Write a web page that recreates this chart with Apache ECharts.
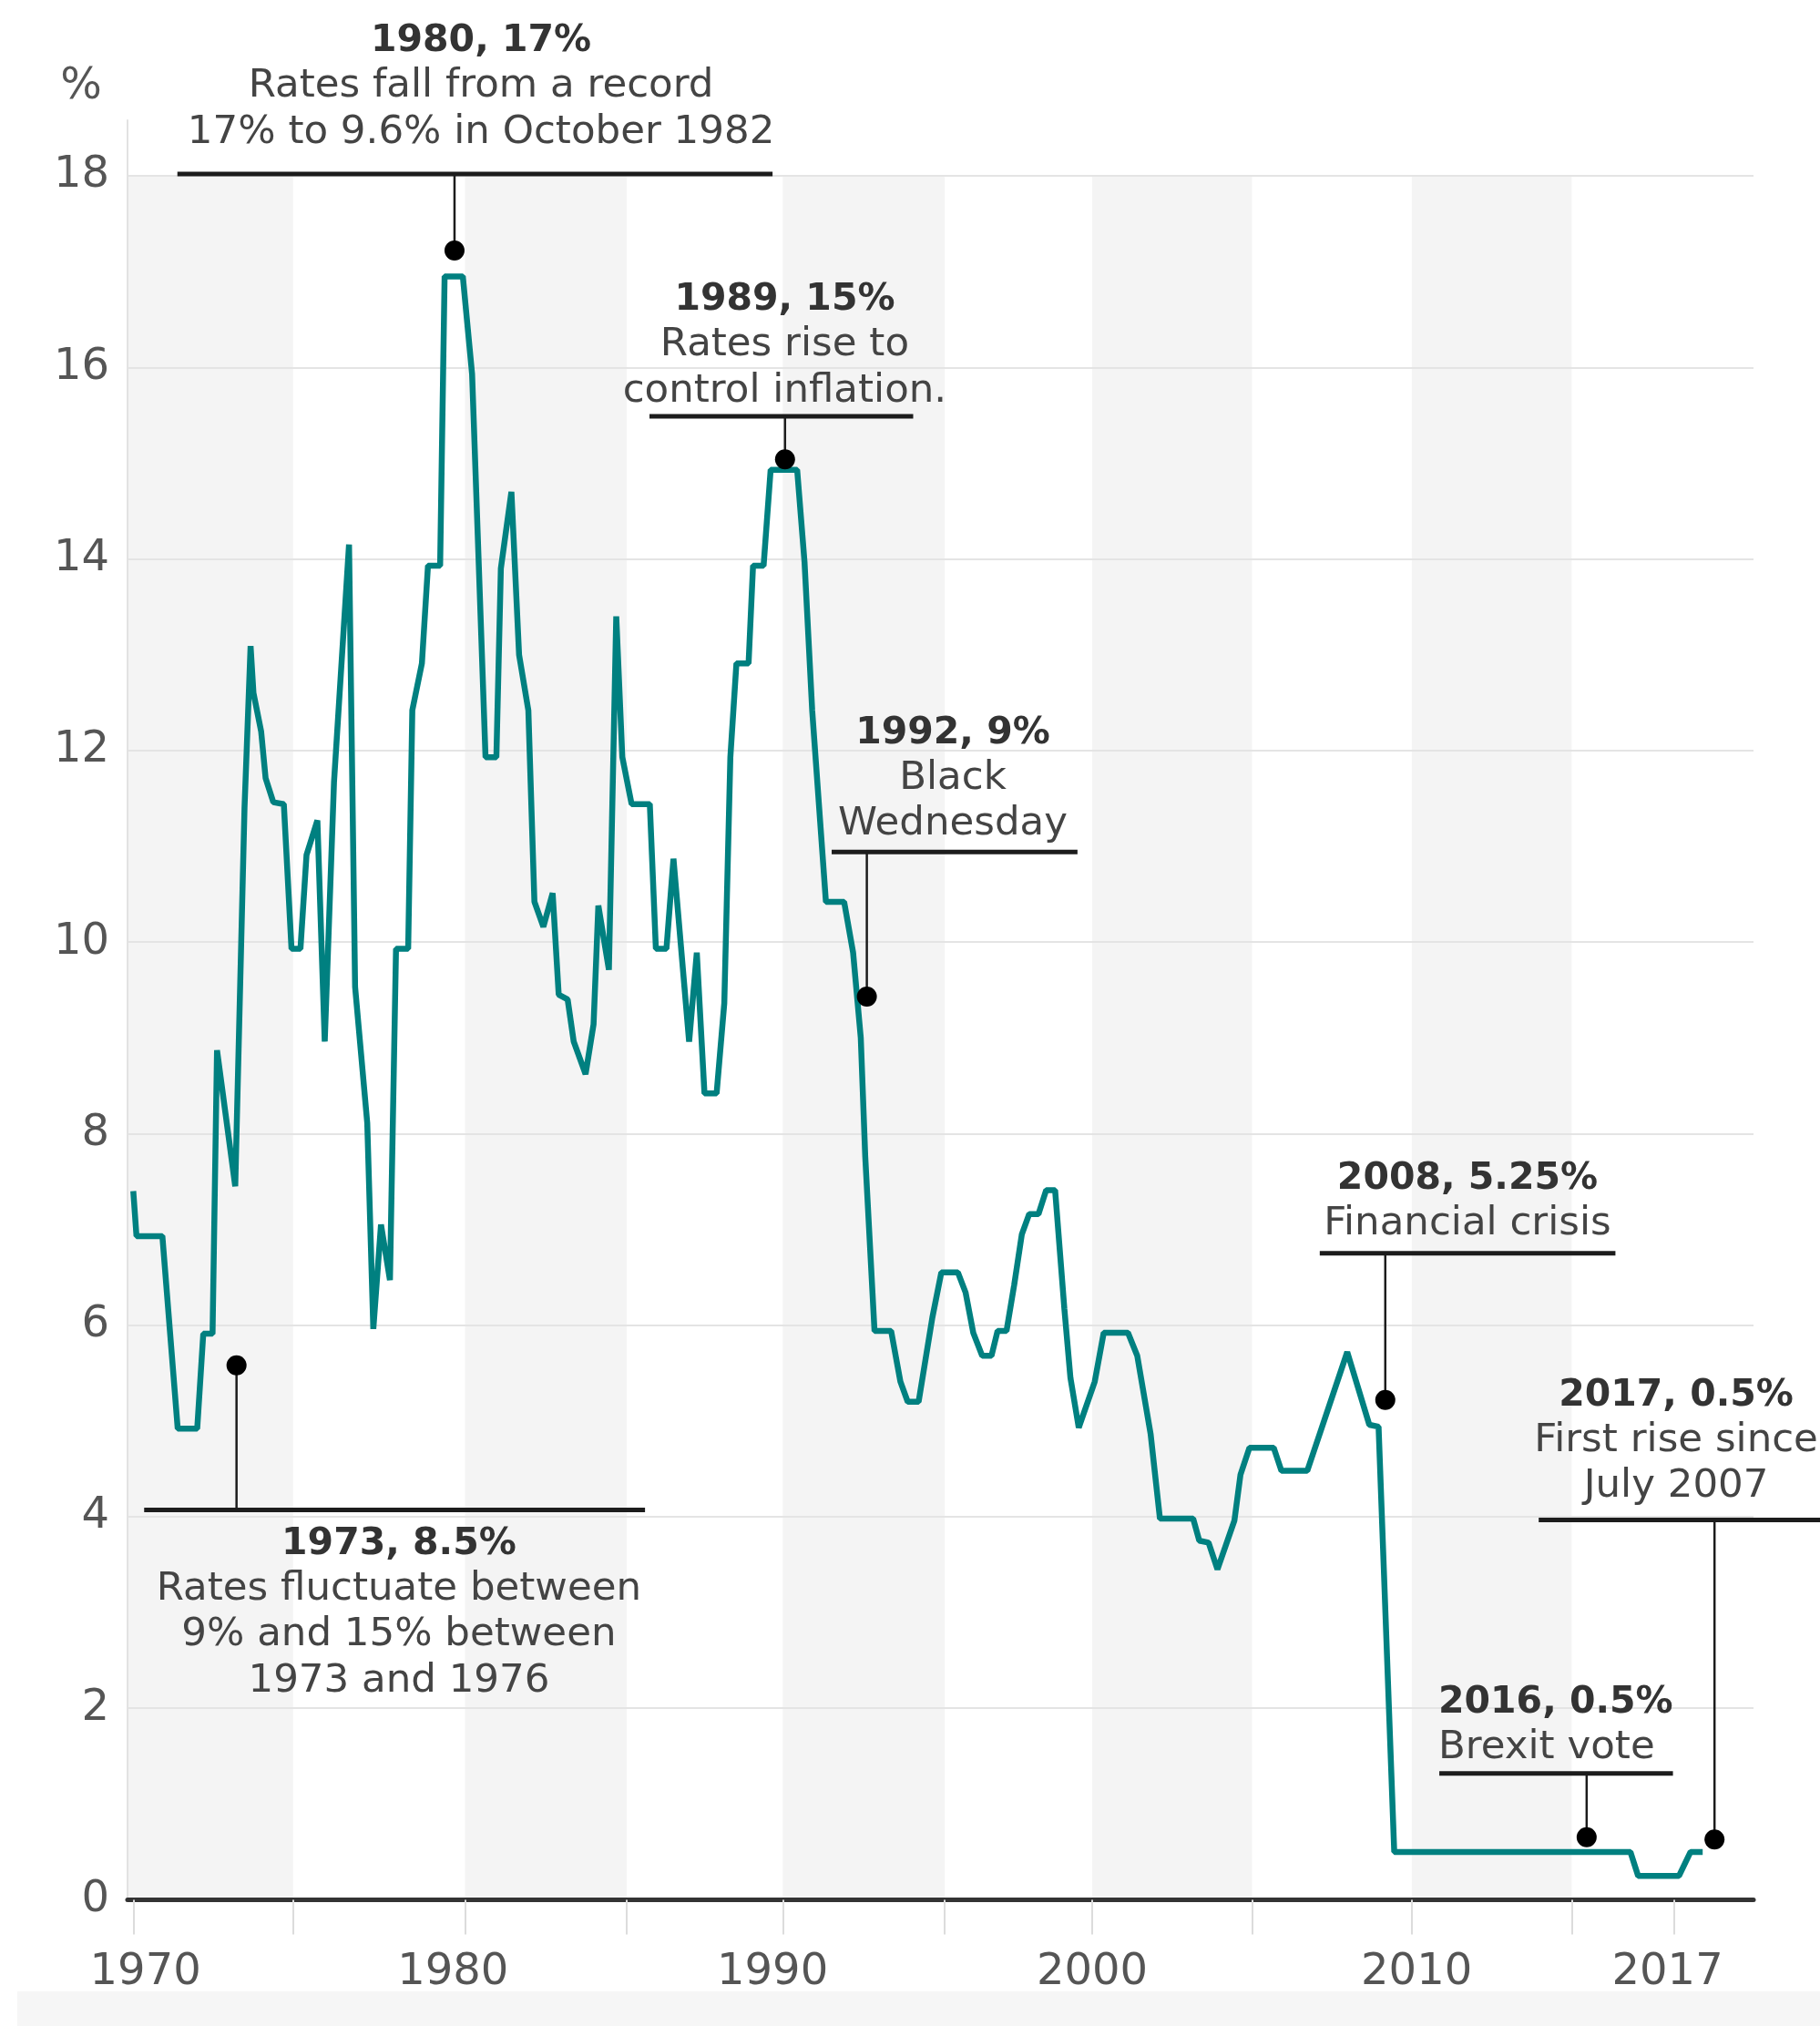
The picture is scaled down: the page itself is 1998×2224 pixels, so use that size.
<!DOCTYPE html>
<html>
<head>
<meta charset="utf-8">
<title>UK interest rates since 1970</title>
<script src="https://cdn.jsdelivr.net/npm/echarts@6.0.0/dist/echarts.min.js"></script>
<style>
  html, body { margin: 0; padding: 0; background: #ffffff; }
  #wrap { position: relative; width: 1998px; height: 2224px; overflow: hidden; }
  #footer { position: absolute; left: 19px; top: 2186px; right: 0; bottom: 0; background: #f6f6f6; }
  #chart { position: absolute; left: 0; top: 0; width: 1998px; height: 2224px; }
</style>
</head>
<body>
<div id="wrap">
  <div id="footer"></div>
  <div id="chart"></div>
</div>
<script>
// Bank Rate, % (year as decimal, value at each turning point of the line)
const RATE_YEARS = [
  1970.00, 1970.10, 1970.91, 1971.39, 1972.00, 1972.19, 1972.48, 1972.62, 1973.19, 1973.48,
  1973.67, 1973.76, 1974.00, 1974.14, 1974.38, 1974.71, 1974.95, 1975.23, 1975.42, 1975.76,
  1975.99, 1976.28, 1976.75, 1976.94, 1977.32, 1977.51, 1977.75, 1978.03, 1978.22, 1978.60,
  1978.73, 1979.03, 1979.22, 1979.60, 1979.74, 1980.31, 1980.60, 1981.02, 1981.36, 1981.50,
  1981.83, 1982.07, 1982.36, 1982.55, 1982.83, 1983.12, 1983.31, 1983.59, 1983.78, 1984.15,
  1984.40, 1984.55, 1984.88, 1985.11, 1985.30, 1985.59, 1986.16, 1986.35, 1986.68, 1986.90,
  1987.39, 1987.63, 1987.87, 1988.25, 1988.49, 1988.68, 1988.87, 1989.25, 1989.39, 1989.72,
  1989.94, 1990.77, 1991.00, 1991.24, 1991.67, 1992.24, 1992.52, 1992.76, 1992.90, 1993.19,
  1993.71, 1994.00, 1994.23, 1994.57, 1995.00, 1995.28, 1995.80, 1996.04, 1996.28, 1996.56,
  1996.85, 1997.04, 1997.32, 1997.56, 1997.80, 1998.03, 1998.32, 1998.56, 1998.84, 1999.13,
  1999.32, 1999.58, 2000.08, 2000.36, 2001.12, 2001.41, 2001.83, 2002.12, 2003.16, 2003.35,
  2003.64, 2003.92, 2004.45, 2004.64, 2004.92, 2005.68, 2005.92, 2006.73, 2007.98, 2008.67,
  2008.96, 2009.45, 2016.84, 2017.08, 2018.36, 2018.72, 2019.10
];
const RATE_VALUES = [
  7.40, 6.93, 6.93, 4.92, 4.92, 5.91, 5.91, 8.87, 7.45, 11.40,
  13.09, 12.60, 12.20, 11.71, 11.46, 11.44, 9.93, 9.93, 10.91, 11.27,
  8.96, 11.67, 14.15, 9.53, 8.11, 5.96, 7.05, 6.47, 9.93, 9.93,
  12.42, 12.91, 13.93, 13.93, 16.95, 16.95, 15.93, 11.93, 11.93, 13.90,
  14.70, 13.00, 12.42, 10.42, 10.16, 10.51, 9.45, 9.40, 8.96, 8.62,
  9.14, 10.38, 9.71, 13.40, 11.93, 11.44, 11.44, 9.93, 9.93, 10.87,
  8.96, 9.89, 8.42, 8.42, 9.36, 11.93, 12.91, 12.91, 13.93, 13.93,
  14.93, 14.93, 13.97, 12.42, 10.42, 10.42, 9.89, 9.00, 7.76, 5.94,
  5.94, 5.41, 5.20, 5.20, 6.08, 6.55, 6.55, 6.34, 5.92, 5.68,
  5.68, 5.94, 5.94, 6.42, 6.95, 7.16, 7.16, 7.41, 7.41, 6.17,
  5.45, 4.93, 5.41, 5.92, 5.92, 5.68, 4.86, 3.98, 3.98, 3.75,
  3.73, 3.45, 3.96, 4.44, 4.72, 4.72, 4.48, 4.48, 5.72, 4.96,
  4.94, 0.50, 0.50, 0.25, 0.25, 0.50, 0.50
];

// Axis extent and ticks (years; the last tick marks the 2017 end of the series)
const X_MIN = 1969.82;
const X_MAX = 2020.69;
const Y_MAX = 18.58;
const X_TICKS = [1970, 1975, 1980.38, 1985.44, 1990.32, 1995.39, 2000, 2005, 2010, 2015, 2018.2];
const X_LABEL_AT = [1970.38, 1980, 1990, 2000, 2010.15, 2018];
const X_LABEL_TEXT = ['1970', '1980', '1990', '2000', '2010', '2017'];

// Shaded five-year bands [from, to]
const BANDS = [[1969.82, 1975], [1980.38, 1985.44], [1990.32, 1995.39], [2000, 2005], [2010, 2015]];
const BAND_TOP = 18;

// Callouts: heading, note lines, text anchor [year, % at first baseline],
// bar [from year, to year, %], marker [year, %]
const NOTE_TITLES = ['1980, 17%', '1989, 15%', '1992, 9%', '2008, 5.25%', '2016, 0.5%', '2017, 0.5%', '1973, 8.5%'];
const NOTE_LINES = [
  ['Rates fall from a record', '17% to 9.6% in October 1982'],
  ['Rates rise to', 'control inflation.'],
  ['Black', 'Wednesday'],
  ['Financial crisis'],
  ['Brexit vote'],
  ['First rise since', 'July 2007'],
  ['Rates fluctuate between', '9% and 15% between', '1973 and 1976']
];
const NOTE_TEXT_AT = [[1980.88, 19.28], [1990.38, 16.58], [1995.64, 12.055], [2011.74, 7.40], [2010.83, 1.935], [2018.27, 5.14], [1978.31, 3.59]];
const NOTE_ALIGN = ['center', 'center', 'center', 'center', 'left', 'center', 'center'];
const NOTE_BARS = [[1971.38, 1990.00, 18.02], [1986.15, 1994.40, 15.49], [1991.85, 1999.54, 10.94], [2007.12, 2016.37, 6.75], [2010.86, 2018.17, 1.32], [2013.97, 2022.83, 3.966], [1970.34, 1986.01, 4.07]];
const NOTE_MARKERS = [[1980.05, 17.22], [1990.39, 15.04], [1992.95, 9.43], [2009.17, 5.22], [2015.47, 0.654], [2019.47, 0.63], [1973.23, 5.58]];

const FONT = '"DejaVu Sans", "Liberation Sans", sans-serif';
const LINE_PITCH = 50.5;
const TITLE_SIZE = 41;
const NOTE_SIZE = 43.5;

const chart = echarts.init(document.getElementById('chart'), null, { renderer: 'canvas' });

function renderBand(params, api) {
  const start = Math.max(api.value(0), X_MIN);
  const end = api.value(1);
  const tl = api.coord([start, BAND_TOP]);
  const br = api.coord([end, 0]);
  return {
    type: 'rect',
    shape: { x: tl[0], y: tl[1], width: br[0] - tl[0], height: br[1] - tl[1] },
    style: { fill: '#f4f4f4' }
  };
}

function renderNote(params, api) {
  const i = params.dataIndex;
  const bar = NOTE_BARS[i];
  const marker = NOTE_MARKERS[i];
  const barL = api.coord([bar[0], bar[2]]);
  const barR = api.coord([bar[1], bar[2]]);
  const stem = api.coord([marker[0], bar[2]]);
  const dot = api.coord(marker);
  const anchor = api.coord(NOTE_TEXT_AT[i]);
  const children = [
    { type: 'line', shape: { x1: barL[0], y1: barL[1], x2: barR[0], y2: barR[1] },
      style: { stroke: '#1c1c1c', lineWidth: 5 } },
    { type: 'line', shape: { x1: stem[0], y1: stem[1], x2: dot[0], y2: dot[1] },
      style: { stroke: '#1c1c1c', lineWidth: 2.5 } },
    { type: 'circle', shape: { cx: dot[0], cy: dot[1], r: 11 }, style: { fill: '#000000' } }
  ];
  const rows = [NOTE_TITLES[i]].concat(NOTE_LINES[i]);
  rows.forEach(function (row, k) {
    const bold = k === 0;
    const size = bold ? TITLE_SIZE : NOTE_SIZE;
    children.push({
      type: 'text',
      x: anchor[0],
      y: anchor[1] + k * LINE_PITCH - 0.32 * size,
      style: {
        text: row,
        font: (bold ? 'bold ' : '') + size + 'px ' + FONT,
        fill: bold ? '#333333' : '#444444',
        align: NOTE_ALIGN[i],
        verticalAlign: 'middle'
      }
    });
  });
  return { type: 'group', children: children };
}

chart.setOption({
  backgroundColor: 'transparent',
  animation: false,
  grid: { left: 140, right: 73, top: 132, bottom: 138.5, containLabel: false },
  xAxis: {
    type: 'value',
    min: X_MIN,
    max: X_MAX,
    z: 1,
    axisLine: { show: true, onZero: false, lineStyle: { color: '#333333', width: 5 } },
    axisTick: { show: true, customValues: X_TICKS, length: 38, lineStyle: { color: '#dcdcdc', width: 2 } },
    axisLabel: {
      customValues: X_LABEL_AT,
      formatter: function (v) {
        const k = X_LABEL_AT.indexOf(v);
        return k >= 0 ? X_LABEL_TEXT[k] : '';
      },
      margin: 56,
      fontFamily: FONT,
      fontSize: 48,
      color: '#555555'
    },
    splitLine: { show: false }
  },
  yAxis: {
    type: 'value',
    min: 0,
    max: Y_MAX,
    interval: 2,
    z: 1,
    name: '%',
    nameLocation: 'end',
    nameGap: 36,
    nameTextStyle: { fontFamily: FONT, fontSize: 48, color: '#555555', align: 'center', verticalAlign: 'middle', padding: [0, 102, 0, 0] },
    axisLine: { show: true, lineStyle: { color: '#e2e2e2', width: 2 } },
    axisTick: { show: false },
    axisLabel: { showMaxLabel: false, margin: 20, padding: [0, 0, 8, 0], fontFamily: FONT, fontSize: 48, color: '#555555' },
    splitLine: { show: true, showMinLine: false, showMaxLine: false, lineStyle: { color: '#e4e4e4', width: 2 } }
  },
  series: [
    {
      type: 'custom',
      name: 'bands',
      z: 0,
      silent: true,
      clip: false,
      renderItem: renderBand,
      encode: { x: [0, 1], y: 2 },
      data: BANDS.map(function (b) { return [b[0], b[1], 0]; })
    },
    {
      type: 'line',
      name: 'Bank Rate',
      z: 2,
      silent: true,
      symbol: 'none',
      showSymbol: false,
      lineStyle: { color: '#008080', width: 6.5 },
      data: RATE_YEARS.map(function (x, i) { return [x, RATE_VALUES[i]]; })
    },
    {
      type: 'custom',
      name: 'notes',
      z: 3,
      silent: true,
      clip: false,
      renderItem: renderNote,
      encode: { x: 0, y: 1 },
      data: NOTE_MARKERS.map(function (m) { return [m[0], m[1]]; })
    }
  ]
});
</script>
</body>
</html>
